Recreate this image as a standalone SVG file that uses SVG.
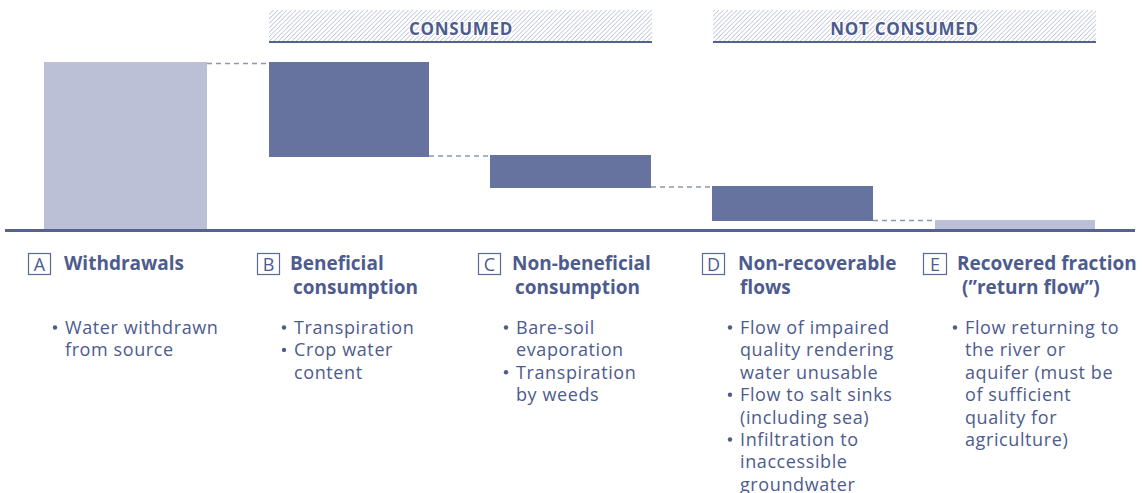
<svg xmlns="http://www.w3.org/2000/svg" width="1142" height="493" viewBox="0 0 1142 493">
<defs>
<pattern id="hatch" patternUnits="userSpaceOnUse" width="4.5" height="4.5">
<path d="M-1,1 l2,-2 M0,4.5 l4.5,-4.5 M3.5,5.5 l2,-2" stroke="#a3abc9" stroke-width="0.8"/>
</pattern>
</defs>
<style>
.dark{fill:#66739f}
.light{fill:#bbc0d6}
.dash{stroke:#8c95b8;stroke-width:1.3;stroke-dasharray:5 4;fill:none}
.hdr{font-family:"Open Sans","Noto Sans",sans-serif;font-weight:bold;font-size:17px;letter-spacing:0.7px;fill:#4d5b8e;text-anchor:middle;stroke:#fff;stroke-width:2.5;paint-order:stroke;stroke-linejoin:round}
.box{fill:none;stroke:#5c6994;stroke-width:1.2}
.let{font-family:"Open Sans","Noto Sans",sans-serif;font-size:18px;fill:#4d5b8e;text-anchor:middle}
.head{font-family:"Open Sans","Noto Sans",sans-serif;font-weight:bold;font-size:19px;fill:#4d5b8e}
.body{font-family:"Open Sans","Noto Sans",sans-serif;font-size:18px;letter-spacing:0.6px;fill:#4d5b8e}
.dot{fill:#4d5b8e}
</style>
<rect width="1142" height="493" fill="#fff"/>

<g id="header-consumed">
<rect x="269" y="10" width="383" height="31" fill="url(#hatch)"/>
<rect x="269" y="41" width="383" height="2" fill="#55628f"/>
<text class="hdr" x="461" y="34.5">CONSUMED</text>
</g>
<g id="header-not-consumed">
<rect x="713" y="10" width="383" height="31" fill="url(#hatch)"/>
<rect x="713" y="41" width="383" height="2" fill="#55628f"/>
<text class="hdr" x="904.5" y="34.5">NOT CONSUMED</text>
</g>

<g id="baseline">
<rect x="5" y="229" width="1130" height="3" fill="#55628f"/>
</g>

<g id="connectors">
<line class="dash" x1="207" y1="63.5" x2="269" y2="63.5"/>
<line class="dash" x1="429" y1="156" x2="490" y2="156"/>
<line class="dash" x1="651" y1="187" x2="712" y2="187"/>
<line class="dash" x1="873" y1="220.5" x2="935" y2="220.5"/>
</g>

<g id="node-a">
<rect class="light" x="44" y="62" width="163" height="167"/>
<rect class="box" x="28.5" y="253.5" width="22" height="21"/>
<text class="let" x="39.5" y="270.5">A</text>
<text class="head" x="64" y="270">Withdrawals</text>
<circle class="dot" cx="55" cy="327.5" r="2.2"/>
<text class="body" x="65" y="334">Water withdrawn</text>
<text class="body" x="65" y="356.4">from source</text>
</g>

<g id="node-b">
<rect class="dark" x="269" y="62" width="160" height="95"/>
<rect class="box" x="257.5" y="253.5" width="22" height="21"/>
<text class="let" x="268.5" y="270.5">B</text>
<text class="head" x="290" y="270">Beneficial</text>
<text class="head" x="293" y="294">consumption</text>
<circle class="dot" cx="284" cy="327.5" r="2.2"/>
<text class="body" x="294" y="334">Transpiration</text>
<circle class="dot" cx="284" cy="349.9" r="2.2"/>
<text class="body" x="294" y="356.4">Crop water</text>
<text class="body" x="294" y="378.8">content</text>
</g>

<g id="node-c">
<rect class="dark" x="490" y="155" width="161" height="33"/>
<rect class="box" x="478.5" y="253.5" width="22" height="21"/>
<text class="let" x="489.5" y="270.5">C</text>
<text class="head" x="512" y="270">Non-beneficial</text>
<text class="head" x="515" y="294">consumption</text>
<circle class="dot" cx="506" cy="327.5" r="2.2"/>
<text class="body" x="516" y="334">Bare-soil</text>
<text class="body" x="516" y="356.4">evaporation</text>
<circle class="dot" cx="506" cy="372.3" r="2.2"/>
<text class="body" x="516" y="378.8">Transpiration</text>
<text class="body" x="516" y="401.2">by weeds</text>
</g>

<g id="node-d">
<rect class="dark" x="712" y="186" width="161" height="35"/>
<rect class="box" x="702.5" y="253.5" width="22" height="21"/>
<text class="let" x="713.5" y="270.5">D</text>
<text class="head" x="738" y="270">Non-recoverable</text>
<text class="head" x="740" y="294">flows</text>
<circle class="dot" cx="730" cy="327.5" r="2.2"/>
<text class="body" x="740" y="334">Flow of impaired</text>
<text class="body" x="740" y="356.4">quality rendering</text>
<text class="body" x="740" y="378.8">water unusable</text>
<circle class="dot" cx="730" cy="394.7" r="2.2"/>
<text class="body" x="740" y="401.2">Flow to salt sinks</text>
<text class="body" x="740" y="423.6">(including sea)</text>
<circle class="dot" cx="730" cy="439.5" r="2.2"/>
<text class="body" x="740" y="446">Infiltration to</text>
<text class="body" x="740" y="468.4">inaccessible</text>
<text class="body" x="740" y="490.5">groundwater</text>
</g>

<g id="node-e">
<rect class="light" x="935" y="220" width="160" height="9"/>
<rect class="box" x="923.5" y="253.5" width="23" height="21"/>
<text class="let" x="935" y="270.5">E</text>
<text class="head" x="957" y="270">Recovered fraction</text>
<text class="head" x="962" y="294">(”return flow”)</text>
<circle class="dot" cx="955" cy="327.5" r="2.2"/>
<text class="body" x="965" y="334">Flow returning to</text>
<text class="body" x="965" y="356.4">the river or</text>
<text class="body" x="965" y="378.8">aquifer (must be</text>
<text class="body" x="965" y="401.2">of sufficient</text>
<text class="body" x="965" y="423.6">quality for</text>
<text class="body" x="965" y="446">agriculture)</text>
</g>
</svg>
